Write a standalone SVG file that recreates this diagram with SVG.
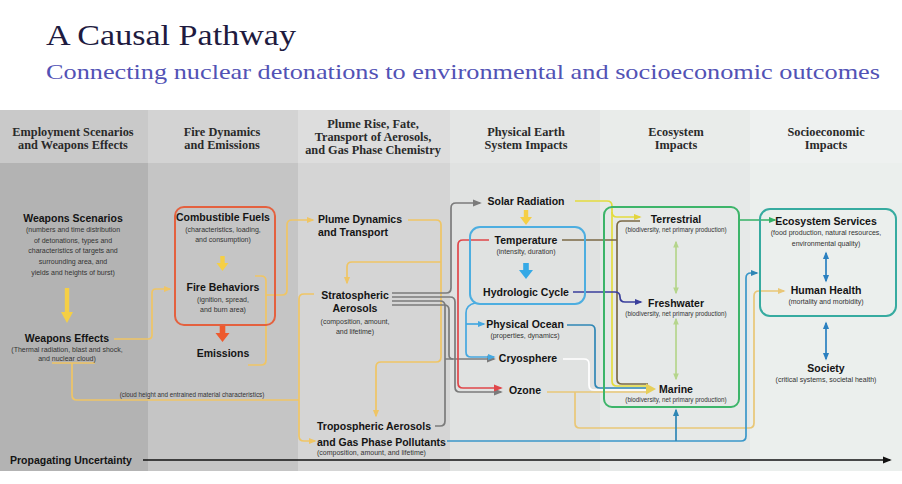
<svg xmlns="http://www.w3.org/2000/svg" width="902" height="484" viewBox="0 0 902 484">
<style>
.hd{font-family:"Liberation Serif",serif;font-weight:bold;font-size:12.3px;fill:#2a2a2a;text-anchor:middle}
.t{font-family:"Liberation Sans",Arial,sans-serif;font-weight:bold;font-size:10.5px;fill:#141414;text-anchor:middle}
.s{font-family:"Liberation Sans",Arial,sans-serif;font-size:7px;fill:#333;text-anchor:middle}
.ss{font-family:"Liberation Sans",Arial,sans-serif;font-size:6.3px;fill:#333;text-anchor:middle}
.st{text-anchor:start}
.ln{fill:none;stroke-width:1.7;stroke-linejoin:round}
.gold{stroke:#efc565}
.gray{stroke:#7b7b7b}
.red{stroke:#e0474a}
.blue{stroke:#45a8e0}
.yel{stroke:#e3dc3e}
.brown{stroke:#7b6a45}
.navy{stroke:#3a3f9c}
.teal{stroke:#2f87b5}
.wht{stroke:#ffffff}
.tan{stroke:#e9c777}
.tb{stroke:#3a97c9}
.grn{stroke:#33b066}
.lg{stroke:#b5d58c}
.db{stroke:#2a80c0}
.box{fill:none;stroke-width:2}
</style>
<defs>
<marker id="m-gold" viewBox="0 0 10 10" refX="8" refY="5" markerWidth="8" markerHeight="8" markerUnits="userSpaceOnUse" orient="auto-start-reverse"><path d="M0,1 L10,5 L0,9 z" fill="#efc565"/></marker>
<marker id="m-gray" viewBox="0 0 10 10" refX="8" refY="5" markerWidth="9" markerHeight="9" markerUnits="userSpaceOnUse" orient="auto-start-reverse"><path d="M0,1 L10,5 L0,9 z" fill="#7b7b7b"/></marker>
<marker id="m-red" viewBox="0 0 10 10" refX="8" refY="5" markerWidth="9" markerHeight="9" markerUnits="userSpaceOnUse" orient="auto-start-reverse"><path d="M0,1 L10,5 L0,9 z" fill="#e0474a"/></marker>
<marker id="m-blue" viewBox="0 0 10 10" refX="8" refY="5" markerWidth="8" markerHeight="8" markerUnits="userSpaceOnUse" orient="auto-start-reverse"><path d="M0,1 L10,5 L0,9 z" fill="#45a8e0"/></marker>
<marker id="m-yel" viewBox="0 0 10 10" refX="8" refY="5" markerWidth="8" markerHeight="8" markerUnits="userSpaceOnUse" orient="auto-start-reverse"><path d="M0,1 L10,5 L0,9 z" fill="#e3d43e"/></marker>
<marker id="m-brown" viewBox="0 0 10 10" refX="8" refY="5" markerWidth="8" markerHeight="8" markerUnits="userSpaceOnUse" orient="auto-start-reverse"><path d="M0,1 L10,5 L0,9 z" fill="#7b6a45"/></marker>
<marker id="m-navy" viewBox="0 0 10 10" refX="8" refY="5" markerWidth="8" markerHeight="8" markerUnits="userSpaceOnUse" orient="auto-start-reverse"><path d="M0,1 L10,5 L0,9 z" fill="#3a3f9c"/></marker>
<marker id="m-tan" viewBox="0 0 10 10" refX="8" refY="5" markerWidth="8" markerHeight="8" markerUnits="userSpaceOnUse" orient="auto-start-reverse"><path d="M0,1 L10,5 L0,9 z" fill="#e9c777"/></marker>
<marker id="m-tb" viewBox="0 0 10 10" refX="8" refY="5" markerWidth="8" markerHeight="8" markerUnits="userSpaceOnUse" orient="auto-start-reverse"><path d="M0,1 L10,5 L0,9 z" fill="#2f87b5"/></marker>
<marker id="m-grn" viewBox="0 0 10 10" refX="8" refY="5" markerWidth="8" markerHeight="8" markerUnits="userSpaceOnUse" orient="auto-start-reverse"><path d="M0,1 L10,5 L0,9 z" fill="#33b066"/></marker>
<marker id="m-lg" viewBox="0 0 10 10" refX="8" refY="5" markerWidth="7" markerHeight="7" markerUnits="userSpaceOnUse" orient="auto-start-reverse"><path d="M0,1 L10,5 L0,9 z" fill="#b5d58c"/></marker>
<marker id="m-db" viewBox="0 0 10 10" refX="8" refY="5" markerWidth="8" markerHeight="8" markerUnits="userSpaceOnUse" orient="auto-start-reverse"><path d="M0,1 L10,5 L0,9 z" fill="#2a80c0"/></marker>
<marker id="m-blk" viewBox="0 0 10 10" refX="8" refY="5" markerWidth="9" markerHeight="9" markerUnits="userSpaceOnUse" orient="auto-start-reverse"><path d="M0,1 L10,5 L0,9 z" fill="#111"/></marker>
</defs>
<rect width="902" height="484" fill="#ffffff"/>
<g id="title">
<text x="46" y="45" font-family="Liberation Serif, serif" font-size="29" fill="#1e1b3f" textLength="250" lengthAdjust="spacingAndGlyphs">A Causal Pathway</text>
<text x="46" y="79" font-family="Liberation Serif, serif" font-size="22" fill="#5252b5" textLength="834" lengthAdjust="spacingAndGlyphs">Connecting nuclear detonations to environmental and socioeconomic outcomes</text>
</g>
<g id="columns">
<rect x="0" y="110" width="148" height="53" fill="#c9c9c9"/>
<rect x="0" y="163" width="148" height="308" fill="#b3b3b3"/>
<rect x="148" y="110" width="150" height="53" fill="#d3d3d3"/>
<rect x="148" y="163" width="150" height="308" fill="#c5c5c5"/>
<rect x="298" y="110" width="152" height="53" fill="#dddddd"/>
<rect x="298" y="163" width="152" height="308" fill="#d5d5d5"/>
<rect x="450" y="110" width="150" height="53" fill="#e4e6e5"/>
<rect x="450" y="163" width="150" height="308" fill="#e0e2e1"/>
<rect x="600" y="110" width="150" height="53" fill="#e9ecea"/>
<rect x="600" y="163" width="150" height="308" fill="#e6e9e8"/>
<rect x="750" y="110" width="152" height="53" fill="#eef1f0"/>
<rect x="750" y="163" width="152" height="308" fill="#ebefed"/>
<text class="hd" x="73" y="136">Employment Scenarios</text>
<text class="hd" x="73" y="149">and Weapons Effects</text>
<text class="hd" x="222" y="136">Fire Dynamics</text>
<text class="hd" x="222" y="149">and Emissions</text>
<text class="hd" x="373" y="128">Plume Rise, Fate,</text>
<text class="hd" x="373" y="141">Transport of Aerosols,</text>
<text class="hd" x="373" y="154">and Gas Phase Chemistry</text>
<text class="hd" x="526" y="136">Physical Earth</text>
<text class="hd" x="526" y="149">System Impacts</text>
<text class="hd" x="676" y="136">Ecosystem</text>
<text class="hd" x="676" y="149">Impacts</text>
<text class="hd" x="826" y="136">Socioeconomic</text>
<text class="hd" x="826" y="149">Impacts</text>
</g>
<g id="connectors">
<path class="ln gold" d="M114,339 H148 Q152,339 152,335 V293 Q152,289 156,289 H170" marker-end="url(#m-gold)"/>
<path class="ln gold" d="M52,363 H95 M72,363 V395 Q72,400 77,400 H299"/>
<path class="ln gold" d="M314,294 H304 Q299,294 299,299 V436 Q299,441 304,441 H315" marker-end="url(#m-gold)"/>
<path class="ln gold" d="M255,276 H261 Q266,276 266,281 V360 Q266,365 261,365 H248"/>
<path class="ln gold" d="M266,295 H282 Q287,295 287,290 V225 Q287,220 292,220 H313" marker-end="url(#m-gold)"/>
<path class="ln gold" d="M408,220 H436 Q441,220 441,225 V357 Q441,362 436,362 H381 Q376,362 376,367 V416" marker-end="url(#m-gold)"/>
<path class="ln gold" d="M441,262 H352 Q347,262 347,267 V283" marker-end="url(#m-gold)"/>
<path class="ln gray" d="M392,293 H446 Q451,293 451,288 V208 Q451,203 456,203 H480" marker-end="url(#m-gray)"/>
<path class="ln gray" d="M392,297 H450 Q455,297 455,302 V387 Q455,392 460,392 H501" marker-end="url(#m-gray)"/>
<path class="ln gray" d="M392,301 H440 Q445,301 445,306 V421 Q445,426 440,426 H435"/>
<path class="ln gray" d="M392,305 H444 Q449,305 449,310 V355 Q449,359 453,359"/>
<path class="ln gray" d="M445,359 H494" marker-end="url(#m-gray)"/>
<path class="ln red" d="M489,240 H463 Q458,240 458,245 V383 Q458,388 463,388 H501" marker-end="url(#m-red)"/>
<path class="ln blue" d="M475,303 Q466,305 466,313 V352 Q466,357 471,357 H494" marker-end="url(#m-blue)"/>
<path class="ln blue" d="M466,324 H484" marker-end="url(#m-blue)"/>
<path class="ln yel" d="M575,201 H607 Q612,201 612,206 V381 Q612,386 617,386 H648"/>
<path class="ln yel" d="M612,212 Q612,217 617,217 H640" marker-end="url(#m-yel)"/>
<path class="ln brown" d="M562,240 H617 M617,240 V226 Q617,221 622,221 H640 M617,240 V379 Q617,384 622,384 H648"/>
<path class="ln navy" d="M573,292 H615 Q620,292 620,297 Q620,302 625,302 H641" marker-end="url(#m-navy)"/>
<path class="ln teal" d="M567,325 H590 Q595,325 595,330 V383 Q595,388 600,388 H648"/>
<path class="ln wht" d="M563,359 H584 Q589,359 589,364 V385 Q589,390 594,390 H648"/>
<path class="ln tan" d="M547,392 H648"/>
<polygon points="646,383.5 656,389 646,394.5" fill="#e6cf5a"/>
<path class="ln tan" d="M575,392 V423 Q575,428 580,428 H749 Q754,428 754,423 V296 Q754,291 759,291 H784" marker-end="url(#m-tan)"/>
<path class="ln tb" d="M447,441 H741 Q746,441 746,436 V278 Q746,273 751,273 H757" marker-end="url(#m-tb)"/>
<path class="ln teal" d="M676,441 V410" marker-end="url(#m-tb)"/>
<path class="ln grn" d="M739,220 H775" marker-end="url(#m-grn)"/>
<path class="ln lg" d="M676,242 V293" marker-start="url(#m-lg)" marker-end="url(#m-lg)"/>
<path class="ln lg" d="M676,319 V379" marker-start="url(#m-lg)" marker-end="url(#m-lg)"/>
<path class="ln db" d="M826,253 V281" marker-start="url(#m-db)" marker-end="url(#m-db)"/>
<path class="ln db" d="M826,323 V359" marker-start="url(#m-db)" marker-end="url(#m-db)"/>
<path fill="none" stroke="#111" stroke-width="1.6" d="M143,460 H890" marker-end="url(#m-blk)"/>
<polygon points="64.8,288 69.2,288 69.2,312 73,312 67,323 61,312 64.8,312" fill="#f5cf45"/>
<polygon points="220.3,256 224.7,256 224.7,263 228.5,263 222.5,271 216.5,263 220.3,263" fill="#f5cf45"/>
<polygon points="219.7,325 225.3,325 225.3,333 229.5,333 222.5,342 215.5,333 219.7,333" fill="#ee5a2e"/>
<polygon points="523.8,210 528.2,210 528.2,217 532,217 526,225 520,217 523.8,217" fill="#f5cf45"/>
<polygon points="523.2,263 528.8,263 528.8,270 533,270 526,279 519,270 523.2,270" fill="#35a9e6"/>
<text class="ss" x="192" y="397">(cloud height and entrained material characteristics)</text>
</g>
<g id="weapons-scenarios">
<text class="t" x="73" y="222">Weapons Scenarios</text>
<text class="s" x="73" y="232">(numbers and time distribution</text>
<text class="s" x="73" y="242.5">of detonations, types and</text>
<text class="s" x="73" y="253">characteristics of targets and</text>
<text class="s" x="73" y="264">surrounding area, and</text>
<text class="s" x="73" y="275">yields and heights of burst)</text>
</g>
<g id="weapons-effects">
<text class="t" x="67" y="342">Weapons Effects</text>
<text class="s" x="67" y="352">(Thermal radiation, blast and shock,</text>
<text class="s" x="67" y="361">and nuclear cloud)</text>
</g>
<g id="fire-box">
<rect class="box" x="175" y="207" width="100" height="118" rx="9" stroke="#e4613f"/>
</g>
<g id="combustible-fuels">
<text class="t" x="223" y="221">Combustible Fuels</text>
<text class="s" x="223" y="232">(characteristics, loading,</text>
<text class="s" x="223" y="242">and consumption)</text>
</g>
<g id="fire-behaviors">
<text class="t" x="223" y="291">Fire Behaviors</text>
<text class="s" x="223" y="302">(ignition, spread,</text>
<text class="s" x="223" y="312">and burn area)</text>
</g>
<g id="emissions">
<text class="t" x="223" y="357">Emissions</text>
</g>
<g id="plume-dynamics">
<text class="t st" x="318" y="223">Plume Dynamics</text>
<text class="t st" x="318" y="236">and Transport</text>
</g>
<g id="stratospheric-aerosols">
<text class="t" x="355" y="299">Stratospheric</text>
<text class="t" x="355" y="312">Aerosols</text>
<text class="s" x="355" y="324">(composition, amount,</text>
<text class="s" x="355" y="334">and lifetime)</text>
</g>
<g id="tropospheric-aerosols">
<text class="t st" x="317" y="430">Tropospheric Aerosols</text>
<text class="t st" x="317" y="446">and Gas Phase Pollutants</text>
<text class="s st" x="317" y="455">(composition, amount, and lifetime)</text>
</g>
<g id="solar-radiation">
<text class="t" x="526" y="205">Solar Radiation</text>
</g>
<g id="temp-hydro-box">
<rect class="box" x="470" y="227" width="115" height="77" rx="10" stroke="#4daee0"/>
</g>
<g id="temperature">
<text class="t" x="526" y="244">Temperature</text>
<text class="s" x="526" y="254">(intensity, duration)</text>
</g>
<g id="hydrologic-cycle">
<text class="t" x="526" y="295.5">Hydrologic Cycle</text>
</g>
<g id="physical-ocean">
<text class="t" x="525" y="328">Physical Ocean</text>
<text class="s" x="525" y="338">(properties, dynamics)</text>
</g>
<g id="cryosphere">
<text class="t" x="528" y="362">Cryosphere</text>
</g>
<g id="ozone">
<text class="t" x="525" y="394">Ozone</text>
</g>
<g id="ecosystem-box">
<rect class="box" x="604" y="207" width="135" height="200" rx="8" stroke="#3db56a"/>
</g>
<g id="terrestrial">
<text class="t" x="676" y="223">Terrestrial</text>
<text class="ss" x="676" y="231.5">(biodiversity, net primary production)</text>
</g>
<g id="freshwater">
<text class="t" x="676" y="306.5">Freshwater</text>
<text class="ss" x="676" y="315.5">(biodiversity, net primary production)</text>
</g>
<g id="marine">
<text class="t" x="676" y="393">Marine</text>
<text class="ss" x="676" y="401.5">(biodiversity, net primary production)</text>
</g>
<g id="socio-box">
<rect class="box" x="760" y="209" width="136" height="107" rx="10" stroke="#36aba0"/>
</g>
<g id="ecosystem-services">
<text class="t" x="826" y="224.5">Ecosystem Services</text>
<text class="s" x="826" y="235">(food production, natural resources,</text>
<text class="s" x="826" y="245.5">environmental quality)</text>
</g>
<g id="human-health">
<text class="t" x="826" y="294">Human Health</text>
<text class="s" x="826" y="304">(mortality and morbidity)</text>
</g>
<g id="society">
<text class="t" x="826" y="372">Society</text>
<text class="s" x="826" y="382">(critical systems, societal health)</text>
</g>
<g id="propagating-uncertainty">
<text class="t st" x="10" y="464">Propagating Uncertainty</text>
</g>
</svg>
